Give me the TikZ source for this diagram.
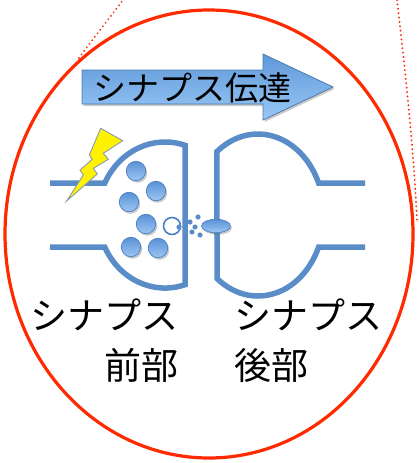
\documentclass[tikz,border=0pt]{standalone}
\usepackage{fontspec}
\newfontfamily\jp{Noto Sans CJK JP}
\usetikzlibrary{shadows,shapes.geometric}
\definecolor{membrane}{HTML}{5A8DC8}
\definecolor{vesedge}{HTML}{4C80C0}
\definecolor{vestop}{HTML}{5A92D8}
\definecolor{vesbot}{HTML}{9CC6F2}
\definecolor{arrtop}{HTML}{5E98D8}
\definecolor{arrbot}{HTML}{9AC8F6}
\definecolor{ringred}{HTML}{FF2A00}
\definecolor{boltedge}{HTML}{8A9AAE}
\tikzset{
  membranepath/.style={draw=membrane, line width=5.5pt},
  guidearc/.style={draw=ringred, line width=2.1pt, line cap=round, dash pattern=on 0.01pt off 4.4pt},
  softshadow/.style={drop shadow={shadow xshift=1.5pt, shadow yshift=-2pt, opacity=0.35, fill=black!60}},
  vesicle/.style={circle, minimum size=19.5pt, inner sep=0pt, draw=vesedge, line width=0.7pt,
                  top color=vestop, bottom color=vesbot, softshadow},
  openvesicle/.style={circle, minimum size=17pt, inner sep=0pt, draw=vesedge, line width=1.6pt, fill=white},
  transmitter/.style={circle, minimum size=5.2pt, inner sep=0pt, fill=membrane},
  receptor/.style={ellipse, minimum width=29pt, minimum height=13.5pt, inner sep=0pt, draw=vesedge,
                   line width=0.7pt, top color=vestop, bottom color=vesbot, softshadow},
  titletext/.style={font=\jp\fontsize{33}{40}\selectfont, inner sep=0pt, text=black},
  labeltext/.style={font=\jp\fontsize{37}{50}\selectfont, inner sep=0pt, text=black},
}
\begin{document}
\begin{tikzpicture}[x=1pt, y=-1pt]
  \useasboundingbox (0,0) rectangle (418,463);

  % dotted guide arcs running off the top
  \draw[guidearc] (79,58) .. controls (92,40) and (108,20) .. (123,0);
  \draw[guidearc] (397,0) .. controls (404,60) and (414,150) .. (417,222);

  % outer red ring
  \draw[ringred, line width=3.2pt] (209,234) ellipse [x radius=204pt, y radius=224pt];

  % direction arrow
  \path[draw=arrtop!80!black, line width=0.8pt, top color=arrtop, bottom color=arrbot, softshadow]
    (82,70) -- (263,70) -- (263,54) -- (333,87) -- (263,120) -- (263,104) -- (82,104) -- cycle;
  \node[titletext] (title) at (192,88) {シナプス伝達};

  % presynaptic terminal
  \draw[membranepath] (50,183) -- (104.8,183)
    arc[start angle=154, end angle=72.6, x radius=67pt, y radius=73pt]
    -- (185,284.7)
    arc[start angle=-72.6, end angle=-154, x radius=67pt, y radius=73pt]
    -- (50,247);

  % postsynaptic terminal
  \draw[membranepath] (365,183) -- (318.6,183)
    arc[start angle=23.3, end angle=128.4, x radius=66pt, y radius=81pt]
    -- (217,278.5)
    arc[start angle=231.6, end angle=336.7, x radius=66pt, y radius=81pt]
    -- (365,247);

  % synaptic vesicles
  \node[vesicle] (v1) at (136,171) {};
  \node[vesicle] (v2) at (156,191) {};
  \node[vesicle] (v3) at (129,202) {};
  \node[vesicle] (v4) at (146,224) {};
  \node[vesicle] (v5) at (131,247) {};
  \node[vesicle] (v6) at (158,248) {};
  \node[openvesicle] (fuse) at (172,226) {};

  % released transmitter
  \node[transmitter] (t1) at (179,227) {};
  \node[transmitter] (t2) at (185,227) {};
  \node[transmitter] (t3) at (190,222) {};
  \node[transmitter] (t4) at (195,227) {};
  \node[transmitter] (t5) at (198,217) {};
  \node[transmitter] (t6) at (192,232) {};
  \node[transmitter] (t7) at (200,235) {};

  % receptor on the postsynaptic membrane
  \node[receptor] (rec) at (216,226) {};

  % action potential bolt
  \path[fill=yellow, draw=boltedge, line width=0.9pt, line join=miter]
    (100.7,128.3) -- (122.7,140.7) -- (103.3,153.3) -- (108.3,159.3) -- (93.3,168.3)
    -- (97.3,174) -- (66.7,201) -- (83.3,175) -- (80,170) -- (92.3,159.3)
    -- (89.3,155) -- cycle;

  % labels
  \node[labeltext, align=right, anchor=north east] (pre) at (179,299) {シナプス\\前部};
  \node[labeltext, align=left, anchor=north west] (post) at (234,299) {シナプス\\後部};
\end{tikzpicture}
\end{document}
